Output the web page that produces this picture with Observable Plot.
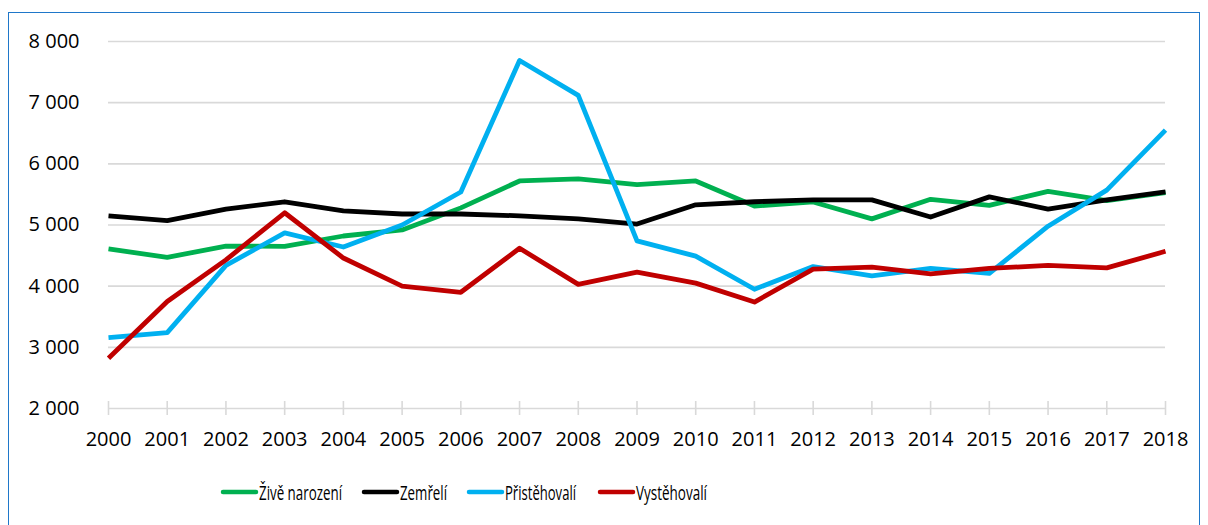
<!DOCTYPE html>
<html>
<head>
<meta charset="utf-8">
<script src="https://cdn.jsdelivr.net/npm/d3@7"></script>
<script src="https://cdn.jsdelivr.net/npm/@observablehq/plot@0.6"></script>
<style>
  html, body { margin: 0; padding: 0; background: #fff; }
  body { position: relative; width: 1208px; height: 525px; overflow: hidden; font-family: "Open Sans", sans-serif; }
  #frame { position: absolute; left: 8px; top: 12px; width: 1192px; height: 540px; border: 1.5px solid #1f77c9; box-sizing: border-box; }
  #chart { position: absolute; left: 0; top: 0; }
  #legend { position: absolute; left: 0; top: 472px; }
</style>
</head>
<body>
<div id="frame"></div>
<div id="chart"></div>
<div id="legend"></div>
<script>
const years = [2000, 2001, 2002, 2003, 2004, 2005, 2006, 2007, 2008, 2009, 2010, 2011, 2012, 2013, 2014, 2015, 2016, 2017, 2018];
const seriesNames = ["Živě narození", "Zemřelí", "Přistěhovalí", "Vystěhovalí"];
const seriesColors = ["#00b050", "#000000", "#00b0f0", "#c00000"];
const zive = [4610, 4470, 4656, 4650, 4820, 4920, 5280, 5720, 5754, 5660, 5720, 5310, 5377, 5100, 5420, 5320, 5550, 5400, 5530];
const zemreli = [5150, 5070, 5260, 5380, 5230, 5180, 5180, 5150, 5100, 5016, 5330, 5380, 5410, 5410, 5130, 5460, 5260, 5410, 5540];
const pristehovali = [3160, 3240, 4340, 4870, 4640, 5000, 5540, 7690, 7120, 4740, 4490, 3950, 4320, 4170, 4290, 4210, 4980, 5570, 6550];
const vystehovali = [2820, 3750, 4430, 5200, 4460, 4000, 3900, 4620, 4030, 4230, 4050, 3740, 4280, 4310, 4200, 4290, 4340, 4300, 4570];
const yTicks = [2000, 3000, 4000, 5000, 6000, 7000, 8000];

const seriesValues = [zive, zemreli, pristehovali, vystehovali];
const data = seriesNames.flatMap((name, s) => years.map((year, i) => ({series: name, year, value: seriesValues[s][i]})));

const fmt = d => d3.format(",")(d).replace(/,/g, " ");

const chart = Plot.plot({
  width: 1208,
  height: 460,
  marginLeft: 108,
  marginRight: 43,
  marginTop: 41,
  marginBottom: 52,
  style: {fontFamily: "'Open Sans', sans-serif", fontSize: "20px", color: "#000", background: "transparent"},
  x: {type: "linear", domain: [years[0], years[years.length - 1]], label: null},
  y: {domain: [yTicks[0], yTicks[yTicks.length - 1]], label: null},
  color: {domain: seriesNames, range: seriesColors},
  marks: [
    Plot.gridY(yTicks, {stroke: "#d9d9d9", strokeOpacity: 1, strokeWidth: 1.6}),
    Plot.ruleX(years, {x: d => d, y1: yTicks[0], y2: yTicks[0], insetTop: -7, insetBottom: -7, stroke: "#d9d9d9", strokeWidth: 1.6}),
    Plot.axisY(yTicks, {tickSize: 0, tickPadding: 29, tickFormat: fmt, fontSize: 20, fill: "#000", label: null}),
    Plot.axisX(years, {tickSize: 0, tickPadding: 23, tickFormat: d => String(d), fontSize: 20, fill: "#000", label: null}),
    ...seriesNames.map((name, s) => Plot.line(data.filter(d => d.series === name), {
      x: "year", y: "value", stroke: seriesColors[s], strokeWidth: 4.8, strokeLinejoin: "round", strokeLinecap: "butt"
    }))
  ]
});
document.getElementById("chart").appendChild(chart);

// Legend
const legendX = [223, 364, 469, 600];
const textWidths = [83, 47, 71, 71];
const svg = d3.select("#legend").append("svg").attr("width", 1208).attr("height", 40);
seriesNames.forEach((name, i) => {
  const g = svg.append("g");
  g.append("line").attr("x1", legendX[i]).attr("x2", legendX[i] + 33).attr("y1", 20).attr("y2", 20)
    .attr("stroke", seriesColors[i]).attr("stroke-width", 4.5).attr("stroke-linecap", "round");
  g.append("text").attr("x", legendX[i] + 36).attr("y", 21).attr("dy", "0.35em")
    .attr("font-family", "'Open Sans', sans-serif").attr("font-size", 20)
    .attr("textLength", textWidths[i]).attr("lengthAdjust", "spacingAndGlyphs")
    .attr("fill", "#000").text(name);
});
</script>
</body>
</html>
